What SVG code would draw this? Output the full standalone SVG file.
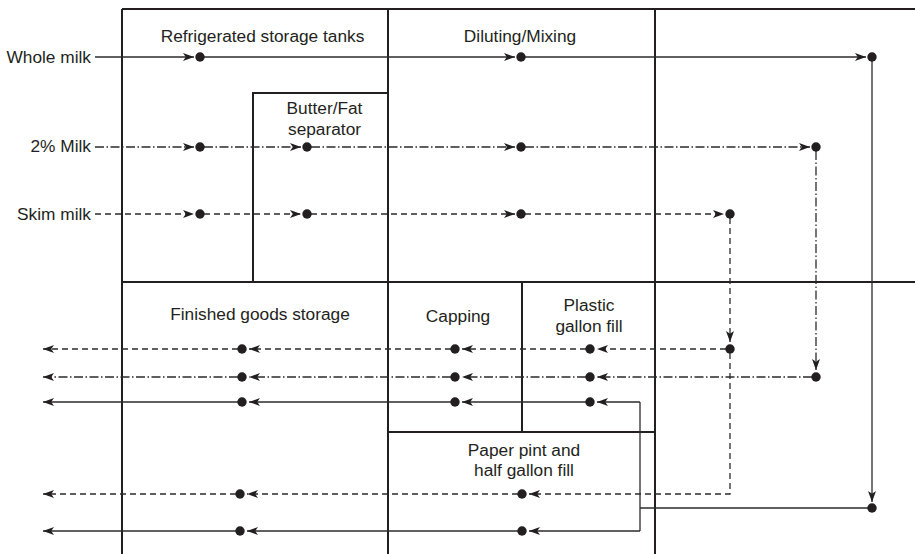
<svg xmlns="http://www.w3.org/2000/svg" width="915" height="554" viewBox="0 0 915 554">
<style>
.wall{stroke:#231f20;stroke-width:2;fill:none}
.c{stroke:#2b2b2b;stroke-width:1.3;fill:none}
.dash{stroke-dasharray:6 4}
.dd{stroke-dasharray:9 2.5 1.5 2.5}
.a{marker-end:url(#ah)}
.dot{fill:#231f20}
text{font-family:"Liberation Sans",Arial,Helvetica,sans-serif;font-size:17.3px;fill:#231f20}
.m{text-anchor:middle}
.e{text-anchor:end}
</style>
<defs>
<marker id="ah" viewBox="0 0 11 8" refX="11" refY="4" markerWidth="11" markerHeight="8" markerUnits="userSpaceOnUse" orient="auto">
<path d="M0,0 L11,4 L0,8 L2.8,4 Z" fill="#231f20"/>
</marker>
</defs>
<rect width="915" height="554" fill="#fff"/>
<g id="walls">
<path class="wall" d="M122,9 H915 M122,9 V554 M388,9 V554 M655,9 V554 M122,282 H915 M253,282 V93 H388 M522,282 V432 M388,432 H655"/>
</g>
<g id="input-whole"><text class="e" x="91" y="63">Whole milk</text></g>
<g id="input-2pct"><text class="e" x="91" y="152">2% Milk</text></g>
<g id="input-skim"><text class="e" x="91" y="220">Skim milk</text></g>
<g id="refrigerated-storage"><text class="m" x="262.5" y="42">Refrigerated storage tanks</text></g>
<g id="butter-fat-separator"><text class="m" x="324.5" y="114">Butter/Fat</text><text class="m" x="324.5" y="135">separator</text></g>
<g id="diluting-mixing"><text class="m" x="520" y="42">Diluting/Mixing</text></g>
<g id="finished-goods-storage"><text class="m" x="260" y="320">Finished goods storage</text></g>
<g id="capping"><text class="m" x="458" y="322">Capping</text></g>
<g id="plastic-gallon-fill"><text class="m" x="589" y="311">Plastic</text><text class="m" x="589" y="332">gallon fill</text></g>
<g id="paper-fill"><text class="m" x="524" y="456">Paper pint and</text><text class="m" x="524" y="476">half gallon fill</text></g>
<g id="connectors">
<path class="c a" d="M95,57 H194"/>
<path class="c a" d="M204,57 H515"/>
<path class="c a" d="M525,57 H866"/>
<path class="c a" d="M872,61 V502"/>
<path class="c" d="M872,508 H640"/>
<path class="c" d="M640,402 V531"/>
<path class="c a" d="M640,402 H597"/>
<path class="c a" d="M586,402 H462"/>
<path class="c a" d="M451,402 H249"/>
<path class="c a" d="M238,402 H43"/>
<path class="c a" d="M640,531 H529"/>
<path class="c a" d="M518,531 H247"/>
<path class="c a" d="M236,531 H43"/>
<path class="c dd a" d="M95,147 H194"/>
<path class="c dd a" d="M204,147 H301"/>
<path class="c dd a" d="M311,147 H515"/>
<path class="c dd a" d="M525,147 H810"/>
<path class="c dd a" d="M816,151 V370"/>
<path class="c dd a" d="M812,377 H597"/>
<path class="c dd a" d="M586,377 H462"/>
<path class="c dd a" d="M451,377 H249"/>
<path class="c dd a" d="M238,377 H43"/>
<path class="c dash a" d="M95,214 H194"/>
<path class="c dash a" d="M204,214 H301"/>
<path class="c dash a" d="M311,214 H515"/>
<path class="c dash a" d="M525,214 H724"/>
<path class="c dash a" d="M730,218 V342"/>
<path class="c dash a" d="M726,349 H597"/>
<path class="c dash a" d="M586,349 H462"/>
<path class="c dash a" d="M451,349 H249"/>
<path class="c dash a" d="M238,349 H43"/>
<path class="c dash a" d="M730,353 V494 H529"/>
<path class="c dash a" d="M518,494 H247"/>
<path class="c dash a" d="M236,494 H43"/>
</g>
<g id="dots" class="dot">
<circle cx="200" cy="57" r="4.7"/><circle cx="521" cy="57" r="4.7"/><circle cx="872" cy="57" r="4.7"/>
<circle cx="200" cy="147" r="4.7"/><circle cx="307" cy="147" r="4.7"/><circle cx="521" cy="147" r="4.7"/><circle cx="816" cy="147" r="4.7"/>
<circle cx="200" cy="214" r="4.7"/><circle cx="307" cy="214" r="4.7"/><circle cx="521" cy="214" r="4.7"/><circle cx="730" cy="214" r="4.7"/>
<circle cx="730" cy="349" r="4.7"/><circle cx="590" cy="349" r="4.7"/><circle cx="455" cy="349" r="4.7"/><circle cx="242" cy="349" r="4.7"/>
<circle cx="816" cy="377" r="4.7"/><circle cx="590" cy="377" r="4.7"/><circle cx="455" cy="377" r="4.7"/><circle cx="242" cy="377" r="4.7"/>
<circle cx="590" cy="402" r="4.7"/><circle cx="455" cy="402" r="4.7"/><circle cx="242" cy="402" r="4.7"/>
<circle cx="872" cy="508" r="4.7"/>
<circle cx="522" cy="494" r="4.7"/><circle cx="240" cy="494" r="4.7"/>
<circle cx="522" cy="531" r="4.7"/><circle cx="240" cy="531" r="4.7"/>
</g>
</svg>
